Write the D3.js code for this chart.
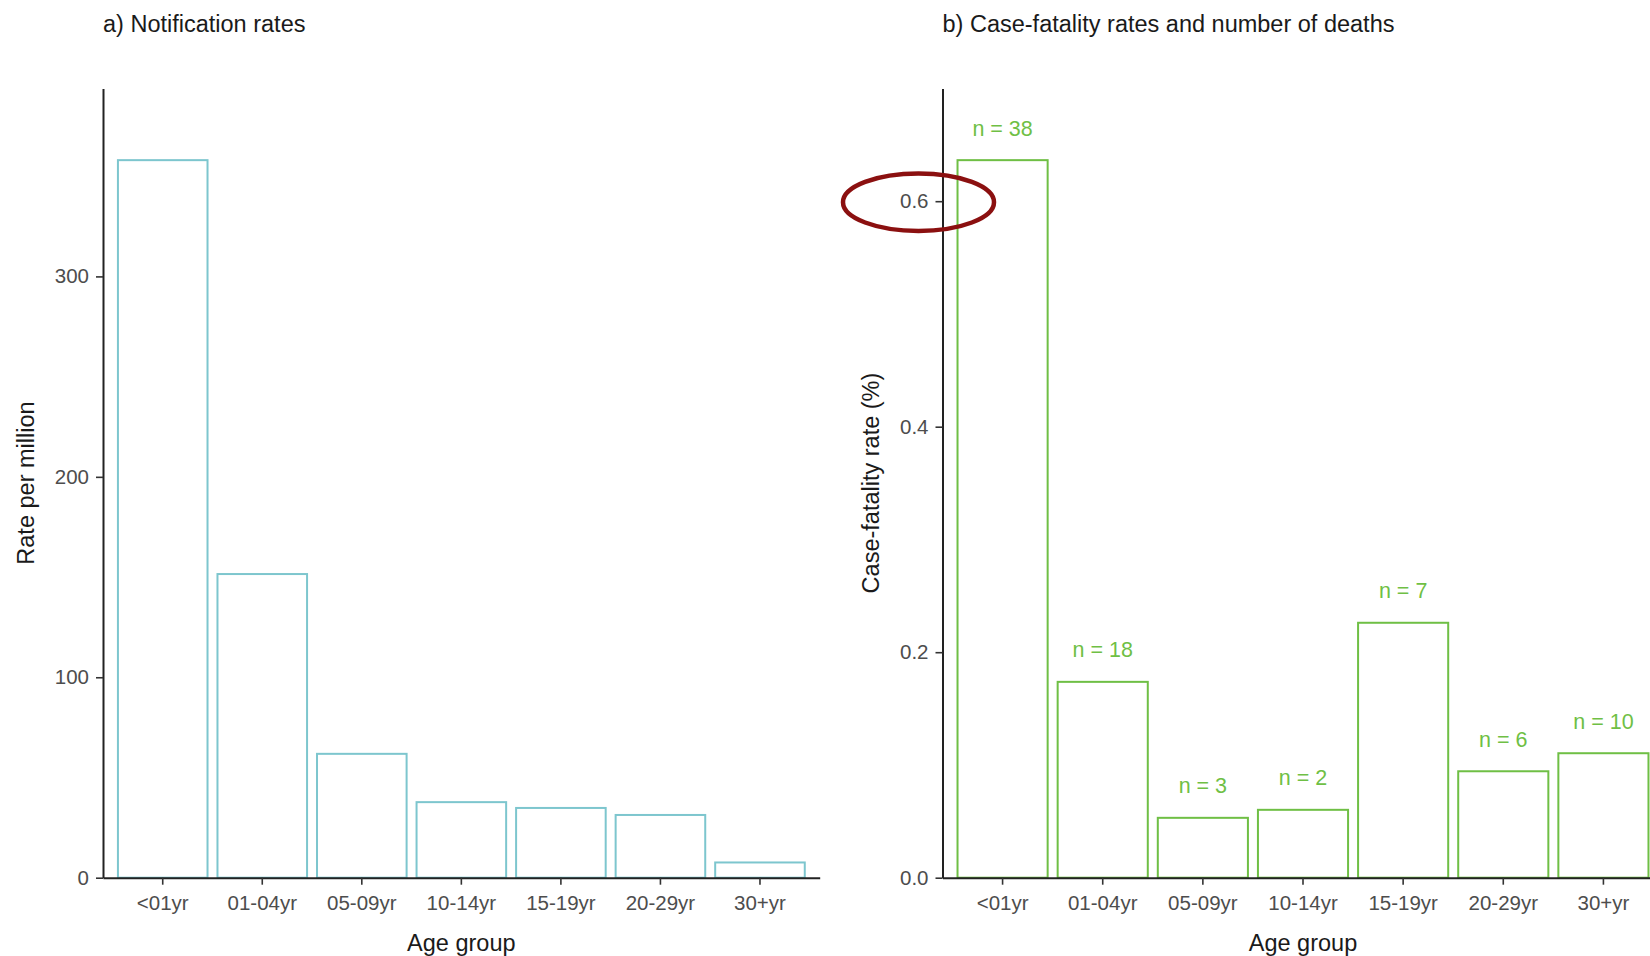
<!DOCTYPE html>
<html><head><meta charset="utf-8">
<script src="https://cdn.jsdelivr.net/npm/d3@7"></script>
<style>
body{margin:0;background:#fff}
text{font-family:"Liberation Sans",Arial,Helvetica,sans-serif}
</style>
</head><body>
<svg id="c" width="1650" height="956"></svg>
<script>
// ---- data ----
const ageGroups = ["<01yr","01-04yr","05-09yr","10-14yr","15-19yr","20-29yr","30+yr"];
const notificationRates = [358, 151.5, 61.8, 37.7, 34.8, 31.3, 7.6];
const caseFatalityRates = [0.6364, 0.1737, 0.0531, 0.0602, 0.2261, 0.0944, 0.1104];
const deaths = [38, 18, 3, 2, 7, 6, 10];
const rateTicks = [0, 100, 200, 300];
const cfrTicks = [0, 0.2, 0.4, 0.6];
const titles = ["a) Notification rates", "b) Case-fatality rates and number of deaths"];
const yTitles = ["Rate per million", "Case-fatality rate (%)"];
const xTitle = "Age group";

// ---- layout ----
const svg = d3.select("#c");
const yTop = 88.4, yBottom = 877.7;
const teal = "#7dc6ce", green = "#6fbf45";

function panel(opt) {
  const g = svg.append("g");
  const x = d3.scaleBand().domain(ageGroups).range([opt.x0, opt.x1])
    .paddingInner(0.1).paddingOuter(0.15);
  const y = d3.scaleLinear().domain([0, d3.max(opt.values) * 1.1]).range([yBottom, yTop]);

  // bars
  g.selectAll("rect.bar").data(opt.values).join("rect")
    .attr("class", "bar")
    .attr("x", (d, i) => x(ageGroups[i]))
    .attr("width", x.bandwidth())
    .attr("y", d => y(d))
    .attr("height", d => yBottom - y(d))
    .attr("fill", "none")
    .attr("stroke", opt.color)
    .attr("stroke-width", 2);

  // y axis
  const ya = g.append("g").attr("transform", `translate(${opt.x0},0)`)
    .call(d3.axisLeft(y).tickValues(opt.ticks).tickFormat(opt.fmt).tickSize(7).tickPadding(7).tickSizeOuter(0));
  // x axis
  const xa = g.append("g").attr("transform", `translate(0,${yBottom})`)
    .call(d3.axisBottom(x).tickSize(7).tickPadding(11).tickSizeOuter(0));
  [ya, xa].forEach(a => {
    a.select(".domain").attr("stroke", "#222").attr("stroke-width", 2);
    a.selectAll(".tick line").attr("stroke", "#333").attr("stroke-width", 1.6);
    a.selectAll(".tick text").attr("fill", "#4d4d4d").style("font-size", "20.5px");
  });

  // titles
  g.append("text").attr("x", opt.x0).attr("y", 32).attr("fill", "#1a1a1a")
    .style("font-size", "23.5px").text(opt.title);
  g.append("text").attr("transform", `translate(${opt.yTitleX},${(yTop + yBottom) / 2}) rotate(-90)`)
    .attr("text-anchor", "middle").attr("fill", "#1a1a1a")
    .style("font-size", "23.5px").text(opt.yTitle);
  const xc = (x(ageGroups[0]) + x(ageGroups[6]) + x.bandwidth()) / 2;
  g.append("text").attr("x", xc).attr("y", 951).attr("text-anchor", "middle")
    .attr("fill", "#1a1a1a").style("font-size", "23.5px").text(xTitle);
  return {g, x, y};
}

panel({x0: 103, x1: 819.7, values: notificationRates, ticks: rateTicks, fmt: d3.format("d"),
  color: teal, title: titles[0], yTitle: yTitles[0], yTitleX: 34});

const p2 = panel({x0: 942.5, x1: 1663.5, values: caseFatalityRates, ticks: cfrTicks, fmt: d3.format(".1f"),
  color: green, title: titles[1], yTitle: yTitles[1], yTitleX: 879});

// death count labels
p2.g.selectAll("text.n").data(deaths).join("text")
  .attr("class", "n")
  .attr("x", (d, i) => p2.x(ageGroups[i]) + p2.x.bandwidth() / 2)
  .attr("y", (d, i) => p2.y(caseFatalityRates[i]) - 32)
  .attr("dy", "0.35em")
  .attr("text-anchor", "middle")
  .attr("fill", green)
  .style("font-size", "21.5px")
  .text(d => "n = " + d);

// red highlight ellipse around the 0.6 tick
svg.append("ellipse")
  .attr("cx", 942.5 - 24).attr("cy", p2.y(0.6) + 1)
  .attr("rx", 75.5).attr("ry", 28.7)
  .attr("fill", "none").attr("stroke", "#8b1010").attr("stroke-width", 4.5);
</script>
</body></html>
